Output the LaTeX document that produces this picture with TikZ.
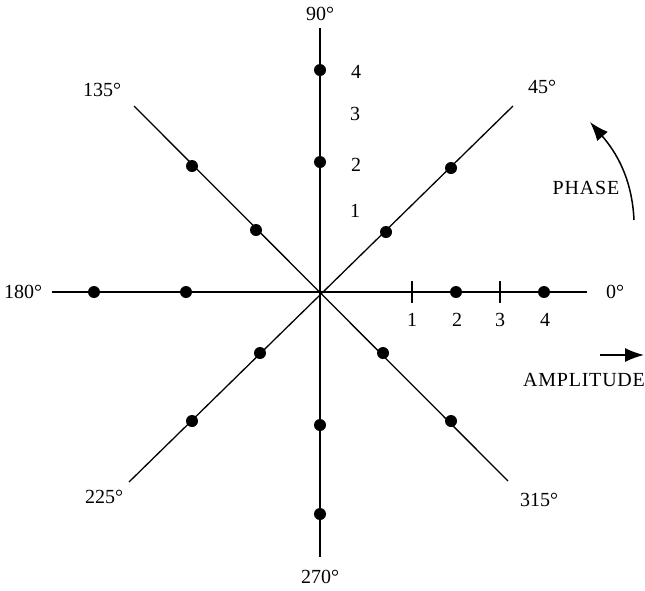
\documentclass[tikz,border=0pt]{standalone}
\usepackage{fontspec}
\setmainfont{Liberation Serif}
\newfontfamily\wordfont[LetterSpace=4]{Liberation Serif}
\usetikzlibrary{arrows.meta}
\begin{document}
\begin{tikzpicture}[x=1pt,y=-1pt,
  axis/.style={line width=1.5pt,black},
  haxis/.style={line width=2pt,black},
  diag/.style={line width=1.3pt,black},
  dot/.style={circle,fill=black,inner sep=0pt,minimum size=12pt},
  lbl/.style={font=\fontsize{20}{20}\selectfont,inner sep=0pt},
  word/.style={font=\wordfont\fontsize{20}{20}\selectfont,inner sep=0pt},
  tick/.style={line width=1.5pt}]
\useasboundingbox (0,0) rectangle (645,590);
\coordinate (O) at (320,292);
% axis ends
\coordinate (e0) at (587,292);
\coordinate (e180) at (52,292);
\coordinate (e90) at (320,28);
\coordinate (e270) at (320,557);
\coordinate (e45) at (513,106);
\coordinate (e135) at (134,106);
\coordinate (e225) at (129,482);
\coordinate (e315) at (508,481);
\draw[haxis] (e180) -- (e0);
\draw[axis] (e90) -- (e270);
\draw[diag] (e225) -- (e45);
\draw[diag] (e135) -- (e315);
% ticks
\coordinate (t1a) at (412,281); \coordinate (t1b) at (412,303);
\coordinate (t3a) at (500,281); \coordinate (t3b) at (500,303);
\draw[tick] (t1a) -- (t1b);
\draw[tick] (t3a) -- (t3b);
% dots
\node[dot] (d90a) at (320,70) {};
\node[dot] (d90b) at (320,162) {};
\node[dot] (d270a) at (320,425) {};
\node[dot] (d270b) at (320,514) {};
\node[dot] (d0a) at (456,292) {};
\node[dot] (d0b) at (544,292) {};
\node[dot] (d180a) at (186,292) {};
\node[dot] (d180b) at (94,292) {};
\node[dot] (d45a) at (386,232) {};
\node[dot] (d45b) at (451,168) {};
\node[dot] (d135a) at (256,230) {};
\node[dot] (d135b) at (192,166) {};
\node[dot] (d225a) at (260,353) {};
\node[dot] (d225b) at (192,421) {};
\node[dot] (d315a) at (383,353) {};
\node[dot] (d315b) at (451,421) {};
% angle labels
\node[lbl] (l0) at (615,292) {0°};
\node[lbl] (l45) at (542,87) {45°};
\node[lbl] (l90) at (320,14) {90°};
\node[lbl] (l135) at (102,90) {135°};
\node[lbl] (l180) at (23,292) {180°};
\node[lbl] (l225) at (104,497) {225°};
\node[lbl] (l270) at (320,577) {270°};
\node[lbl] (l315) at (539,500) {315°};
% amplitude numbers
\node[lbl] (h1) at (412,320) {1};
\node[lbl] (h2) at (457,320) {2};
\node[lbl] (h3) at (500,320) {3};
\node[lbl] (h4) at (545,320) {4};
\node[lbl] (v4) at (356,72) {4};
\node[lbl] (v3) at (355,114) {3};
\node[lbl] (v2) at (356,165) {2};
\node[lbl] (v1) at (355,211) {1};
% phase / amplitude
\node[word] (phase) at (586,188) {PHASE};
\coordinate (pa) at (634,220);
\coordinate (pb) at (590,122);
\draw[line width=1.5pt,-{Latex[length=19pt,width=14pt]}] (pa) .. controls (632,178) and (616,152) .. (pb);
\node[word] (amp) at (584,380) {AMPLITUDE};
\coordinate (aa) at (600,355);
\coordinate (ab) at (644,355);
\draw[line width=1.6pt,-{Latex[length=19pt,width=14pt]}] (aa) -- (ab);
\end{tikzpicture}
\end{document}
